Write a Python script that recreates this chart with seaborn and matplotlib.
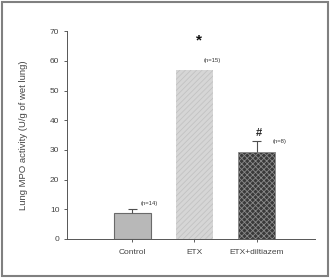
import matplotlib
matplotlib.use("Agg")
import matplotlib.pyplot as plt
import numpy as np
import pandas as pd
import seaborn as sns

groups = ["Control", "ETX", "ETX+diltiazem"]
mpo_mean = [8.8, 56.9, 29.4]
mpo_sem = [1.3, np.nan, 3.6]
n_labels = ["(n=14)", "(n=15)", "(n=8)"]
signif = ["", "*", "#"]

df = pd.DataFrame({"Group": groups, "MPO": mpo_mean, "SEM": mpo_sem})

sns.set_style("ticks")
plt.rcParams["font.family"] = ["Liberation Sans", "DejaVu Sans"]
plt.rcParams["hatch.linewidth"] = 0.6

fig = plt.figure(figsize=(3.31, 2.78), dpi=100)
ax = fig.add_axes([0.2024, 0.1403, 0.7493, 0.7471])

sns.barplot(data=df, x="Group", y="MPO", width=0.6, errorbar=None, ax=ax)

bars = ax.patches
styles = [
    dict(face="#b8b8b8", edge="#6a6a6a", hatch=None, lw=0.8),
    dict(face="#d6d6d6", edge="#c2c2c2", hatch="//////", lw=0.0),
    dict(face="#3a3a3a", edge="#8a8a8a", hatch="xxxxxx", lw=0.6),
]
for bar, st in zip(bars, styles):
    bar.set_facecolor(st["face"])
    bar.set_edgecolor(st["edge"])
    bar.set_linewidth(st["lw"])
    if st["hatch"]:
        bar.set_hatch(st["hatch"])

# upper-only error bars where an SEM is given
err = df.reset_index().dropna(subset=["SEM"])
ax.errorbar(err["index"], err["MPO"] + err["SEM"] / 2, yerr=err["SEM"] / 2, fmt="none",
            ecolor="#505050", elinewidth=0.8, capsize=0)
ax.errorbar(err["index"], err["MPO"] + err["SEM"], yerr=0, xerr=0.07, fmt="none",
            ecolor="#505050", elinewidth=0.8)

# n labels and significance marks
n_pos = [(0.27, 11.8), (1.29, 60.3), (2.37, 33.0)]
for (tx, ty), lab in zip(n_pos, n_labels):
    ax.text(tx, ty, lab, fontsize=4.2, ha="center", va="center", color="#333333")
ax.text(1.08, 67.0, signif[1], fontsize=11, fontweight="bold", ha="center", va="center", color="#111111")
ax.text(2.03, 35.6, signif[2], fontsize=8, fontweight="bold", ha="center", va="center", color="#222222")

ax.set_xlim(-1.05, 2.94)
ax.set_ylim(0, 70)
ax.set_yticks(range(0, 71, 10))
ax.set_xlabel("")
ax.set_ylabel("Lung MPO activity (U/g of wet lung)", fontsize=6.8, color="#444444", labelpad=16)
ax.tick_params(axis="both", labelsize=6, colors="#444444", length=2.5, width=0.6, pad=3)
ax.tick_params(axis="x", pad=5)
for side in ["top", "right"]:
    ax.spines[side].set_visible(False)
for side in ["left", "bottom"]:
    ax.spines[side].set_color("#555555")
    ax.spines[side].set_linewidth(0.7)

border = plt.Rectangle((0.006, 0.007), 0.985, 0.986, transform=fig.transFigure,
                       fill=False, edgecolor="#808080", linewidth=1.5)
fig.patches.append(border)

fig.savefig("out.png", dpi=100)
plt.close(fig)
